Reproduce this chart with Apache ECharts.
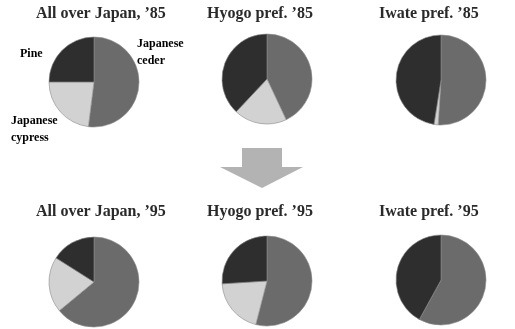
<!DOCTYPE html>
<html lang="en">
<head>
    <meta charset="UTF-8">
    <title>Forest share</title>
    <script src="https://cdn.jsdelivr.net/npm/echarts@6/dist/echarts.min.js"></script>
</head>
<body style="margin:0;background:#fff">
<div id="main" style="width: 515px;height:329px"></div>
<script>
    const species = ['Japanese cedar', 'Japanese cypress', 'Pine']
    const titles = ['All over Japan, \u201985', 'Hyogo pref. \u201985', 'Iwate pref. \u201985',
        'All over Japan, \u201995', 'Hyogo pref. \u201995', 'Iwate pref. \u201995']
    // shares in %
    const cedar = [52, 43, 51, 64, 54, 58]
    const cypress = [23, 19, 1.5, 20, 20, 0]
    const pine = [25, 38, 47.5, 16, 26, 42]

    const colors = ['#6b6b6b', '#d2d2d2', '#2e2e2e']
    const centers = [[94, 82], [267, 79], [441, 80], [94, 282], [267, 281], [441, 280]]
    const titlePos = [[36, 6], [207, 6], [379, 6], [36, 204], [207, 204], [379, 204]]

    const myChart = echarts.init(document.getElementById('main'))
    const txt = {fontFamily: 'Liberation Serif', fontWeight: 'bold', color: '#2a2a2a'}

    const series = titles.map(function (t, i) {
        return {
            type: 'pie',
            center: centers[i],
            radius: 45,
            startAngle: 90,
            clockwise: true,
            label: {show: false},
            labelLine: {show: false},
            silent: true,
            itemStyle: {borderColor: '#8a8a8a', borderWidth: 0.6},
            data: [
                {name: species[0], value: cedar[i], itemStyle: {color: colors[0]}},
                {name: species[1], value: cypress[i], itemStyle: {color: colors[1]}},
                {name: species[2], value: pine[i], itemStyle: {color: colors[2]}}
            ]
        }
    })

    const option = {
        animation: false,
        backgroundColor: '#fff',
        title: titles.map(function (t, i) {
            return {
                text: t,
                left: titlePos[i][0],
                top: titlePos[i][1],
                padding: 0,
                textStyle: Object.assign({fontSize: 16}, txt)
            }
        }),
        series: series,
        graphic: [
            {type: 'text', left: 20, top: 48, style: Object.assign({text: 'Pine', fontSize: 12}, txt)},
            {type: 'text', left: 137, top: 35, style: Object.assign({text: 'Japanese\nceder', fontSize: 12, lineHeight: 17}, txt)},
            {type: 'text', left: 11, top: 112, style: Object.assign({text: 'Japanese\ncypress', fontSize: 12, lineHeight: 17}, txt)},
            {
                type: 'polygon',
                shape: {points: [[242, 148], [282, 148], [282, 167], [303, 167], [262, 188], [220, 167], [242, 167]]},
                style: {fill: '#b3b3b3'}
            }
        ]
    }
    myChart.setOption(option)
</script>
</body>
</html>
